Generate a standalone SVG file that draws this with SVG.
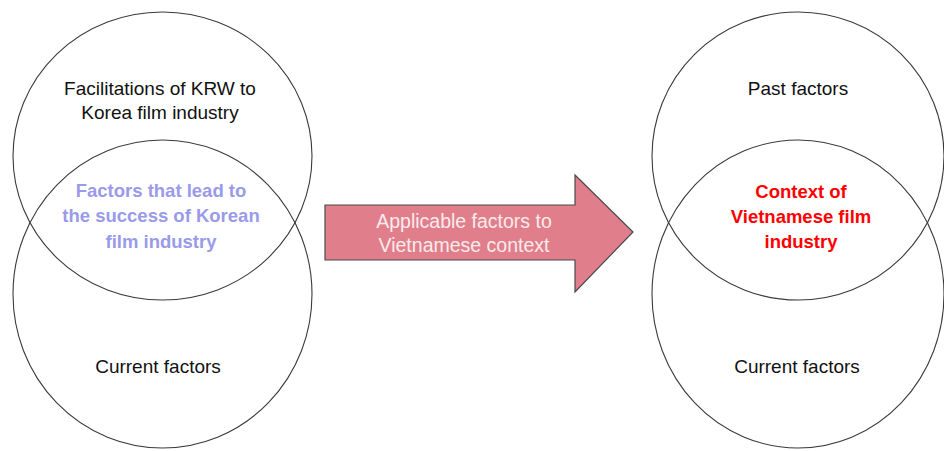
<svg xmlns="http://www.w3.org/2000/svg" width="944" height="451" viewBox="0 0 944 451">
  <style>
    .ring { fill: none; stroke: #3a3a3a; stroke-width: 1.1; }
    .lbl { font-family: "Liberation Sans", Arial, sans-serif; font-size: 19px; text-anchor: middle; fill: #111; }
    .key { font-weight: bold; font-size: 18.5px; }
    .blue { fill: #9a9aea; }
    .red { fill: #ff0000; }
    .arrowtxt { fill: #fbeaec; font-size: 19.5px; }
  </style>
  <rect width="944" height="451" fill="#ffffff"/>

  <!-- Korean side: two overlapping circles -->
  <g id="korea-past">
    <ellipse class="ring" cx="162.5" cy="156" rx="149.5" ry="144"/>
    <text class="lbl" x="160" y="95">Facilitations of KRW to</text>
    <text class="lbl" x="160" y="119">Korea film industry</text>
  </g>
  <g id="korea-current">
    <ellipse class="ring" cx="162.5" cy="294" rx="149.5" ry="154"/>
    <text class="lbl" x="158" y="373">Current factors</text>
  </g>
  <g id="korea-overlap">
    <text class="lbl key blue" x="161" y="197">Factors that lead to</text>
    <text class="lbl key blue" x="161" y="222">the success of Korean</text>
    <text class="lbl key blue" x="161" y="248">film industry</text>
  </g>

  <!-- Transfer arrow -->
  <g id="connectors">
    <g id="transfer">
      <path d="M325,205 H575 V175 L633,232 L575,292 V260 H325 Z" fill="#e07f8b" stroke="#4a4a4a" stroke-width="1.2" stroke-linejoin="miter"/>
      <text class="lbl arrowtxt" x="464" y="228">Applicable factors to</text>
      <text class="lbl arrowtxt" x="464" y="252">Vietnamese context</text>
    </g>
  </g>

  <!-- Vietnamese side: two overlapping circles -->
  <g id="vietnam-past">
    <ellipse class="ring" cx="798" cy="156" rx="146" ry="144"/>
    <text class="lbl" x="798" y="95">Past factors</text>
  </g>
  <g id="vietnam-current">
    <ellipse class="ring" cx="798" cy="294" rx="146" ry="154"/>
    <text class="lbl" x="797" y="373">Current factors</text>
  </g>
  <g id="vietnam-overlap">
    <text class="lbl key red" x="801" y="198">Context of</text>
    <text class="lbl key red" x="801" y="223">Vietnamese film</text>
    <text class="lbl key red" x="801" y="248">industry</text>
  </g>
</svg>
